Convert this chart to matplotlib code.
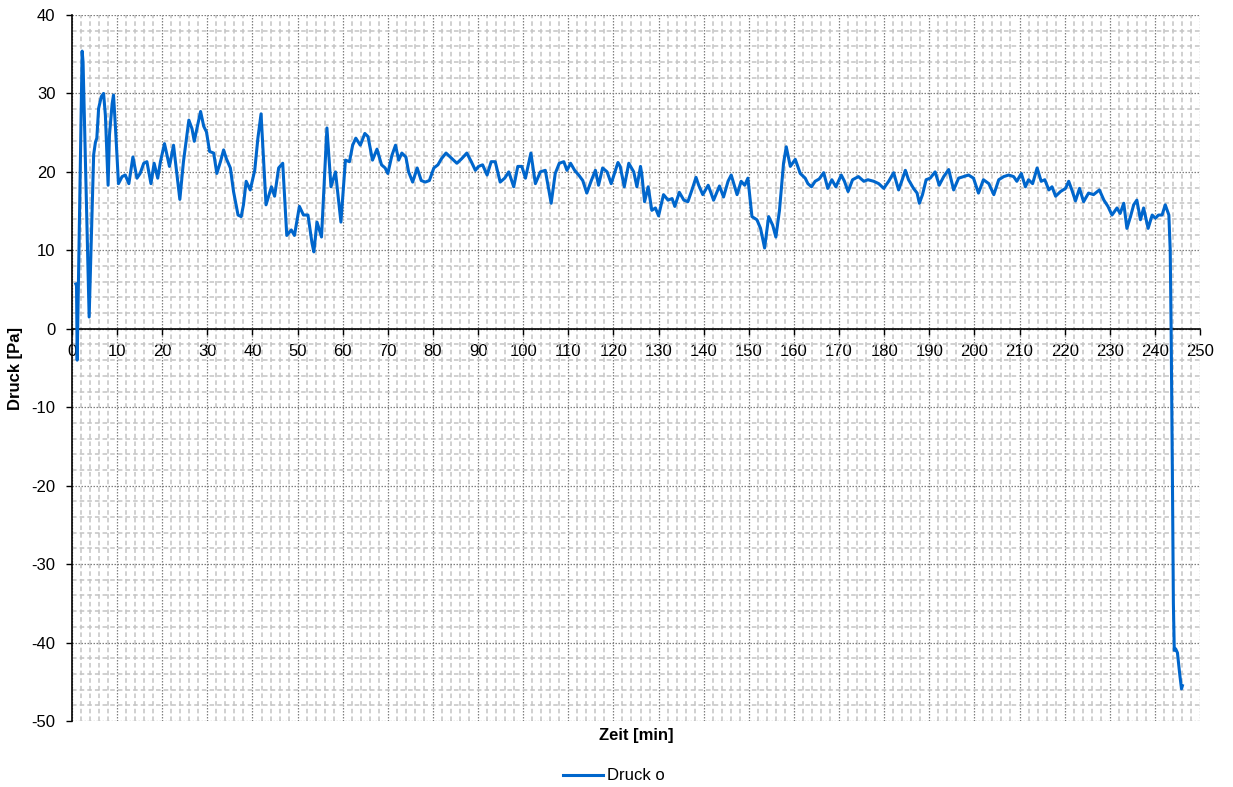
import matplotlib
matplotlib.use('Agg')
import matplotlib.pyplot as plt
from matplotlib.ticker import MultipleLocator

# Druckverlauf
zeit = [0.85, 1.0, 1.15, 2.25, 2.45, 3.8, 4.8, 5.2, 5.5, 5.9, 6.5, 7.0, 7.4, 8.0, 8.3, 8.9, 9.2, 9.6,
        10.3, 11.1, 11.8, 12.6, 13.5, 14.4, 15.1, 15.9, 16.6, 17.5, 18.2, 19.0, 19.6, 20.5, 21.6, 22.5,
        23.0, 23.9, 24.7, 25.9, 26.6, 27.1, 27.6, 28.5, 29.2, 29.8, 30.5, 31.4, 32.1, 32.9, 33.6, 34.2,
        35.1, 35.8, 36.8, 37.5, 38.0, 38.6, 39.5, 40.5, 41.2, 41.9, 43.0, 44.2, 44.9, 45.8, 46.7, 47.6,
        48.6, 49.3, 50.4, 51.3, 52.3, 53.2, 53.6, 54.3, 55.3, 56.5, 57.4, 58.4, 59.6, 60.6, 61.5, 62.2,
        62.9, 63.9, 64.9, 65.6, 66.6, 67.6, 68.6, 69.4, 70.0, 70.9, 71.7, 72.4, 73.1, 74.0, 74.6, 75.5,
        76.5, 77.4, 78.3, 79.2, 80.2, 81.1, 81.9, 82.9, 84.2, 85.3, 86.4, 87.5, 88.5, 89.4, 90.1, 91.0,
        92.0, 92.9, 93.8, 94.9, 95.9, 96.8, 97.9, 98.8, 99.7, 100.5, 101.7, 102.7, 103.8, 104.9, 106.2,
        107.1, 108.0, 109.0, 109.7, 110.5, 111.4, 112.3, 113.2, 114.1, 115.1, 116.0, 116.7, 117.6,
        118.6, 119.5, 121.0, 121.5, 122.4, 123.4, 124.5, 125.2, 126.0, 126.3, 126.9, 127.7, 128.5,
        129.3, 130.0, 131.1, 132.1, 133.0, 133.6, 134.6, 135.6, 136.5, 137.4, 138.3, 138.9, 139.8,
        141.0, 142.2, 143.5, 144.4, 145.4, 146.1, 147.4, 148.3, 149.1, 149.8, 150.7, 151.8, 152.6,
        153.5, 154.4, 155.3, 156.0, 156.8, 157.7, 158.3, 159.2, 160.3, 161.4, 162.5, 163.1, 163.9,
        164.7, 165.6, 166.6, 167.5, 168.4, 169.3, 170.5, 171.2, 172.0, 173.0, 174.3, 175.5, 176.4,
        177.7, 178.8, 179.9, 181.0, 182.1, 183.2, 184.0, 184.7, 185.4, 186.5, 187.3, 187.8, 188.5,
        189.3, 190.2, 191.3, 192.2, 193.2, 194.3, 195.4, 196.5, 197.6, 198.7, 199.8, 200.9, 202.0,
        203.2, 204.3, 205.4, 206.5, 207.6, 208.7, 209.4, 210.4, 211.3, 212.0, 212.9, 213.9, 214.8,
        215.6, 216.5, 217.2, 218.0, 219.1, 220.2, 220.9, 221.6, 222.4, 223.3, 224.2, 225.3, 226.4,
        227.7, 228.7, 229.6, 230.5, 231.6, 232.3, 233.1, 233.8, 234.6, 235.3, 236.0, 236.8, 237.5,
        238.5, 239.4, 240.1, 240.8, 241.6, 242.3, 243.1, 243.4, 243.6, 243.9, 244.1, 244.3, 244.6,
        245.0, 245.5, 245.9, 246.1]

druck = [5.7, 5.5, -4.0, 35.4, 34.0, 1.5, 22.2, 23.8, 24.3, 28.1, 29.6, 30.0, 27.2, 18.3, 24.7, 28.7, 29.8, 26.0,
         18.5, 19.4, 19.6, 18.5, 21.9, 19.2, 19.8, 21.1, 21.3, 18.5, 21.1, 19.2, 21.3, 23.6, 20.7, 23.4,
         20.9, 16.5, 21.3, 26.6, 25.5, 23.9, 25.3, 27.7, 25.8, 25.1, 22.6, 22.4, 19.8, 21.3, 22.8, 21.7,
         20.5, 17.5, 14.5, 14.3, 15.8, 18.8, 17.7, 20.2, 24.3, 27.4, 15.8, 18.1, 16.9, 20.5, 21.1, 11.9,
         12.6, 11.9, 15.6, 14.5, 14.5, 10.9, 9.8, 13.6, 11.7, 25.6, 18.1, 20.0, 13.6, 21.5, 21.3, 23.4,
         24.3, 23.4, 24.9, 24.5, 21.5, 22.9, 20.9, 20.5, 19.8, 22.1, 23.4, 21.5, 22.4, 21.9, 20.0, 18.7,
         20.5, 18.9, 18.7, 18.9, 20.5, 20.9, 21.7, 22.4, 21.7, 21.1, 21.7, 22.4, 21.3, 20.2, 20.7, 20.9,
         19.6, 21.3, 21.3, 18.7, 19.2, 20.0, 18.1, 20.7, 20.7, 19.2, 22.4, 18.5, 20.0, 20.2, 16.0,
         19.8, 21.1, 21.3, 20.2, 21.1, 20.2, 19.6, 18.9, 17.3, 18.9, 20.2, 18.3, 20.5,
         20.0, 18.5, 21.2, 20.7, 18.1, 21.1, 20.0, 18.1, 20.7, 19.6, 16.2, 18.1, 15.1,
         15.4, 14.4, 17.1, 16.4, 16.6, 15.6, 17.4, 16.4, 16.2, 17.7, 19.3, 18.3, 17.1,
         18.3, 16.4, 18.2, 16.8, 18.8, 19.6, 17.1, 18.8, 18.3, 19.2, 14.3, 13.9, 12.8,
         10.3, 14.3, 13.2, 11.7, 15.1, 21.1, 23.2, 20.7, 21.6, 19.8, 19.2, 18.5, 18.1,
         18.8, 19.1, 19.9, 17.9, 19.0, 18.1, 19.6, 18.8, 17.5, 19.0, 19.4, 18.8, 19.0,
         18.8, 18.5, 17.9, 18.8, 19.9, 17.7, 19.0, 20.2, 19.0, 17.9, 17.3, 16.0, 17.1,
         19.0, 19.2, 20.0, 18.3, 19.4, 20.3, 17.7, 19.2, 19.4, 19.6, 19.2, 17.3, 19.0,
         18.5, 17.1, 19.0, 19.4, 19.6, 19.4, 18.8, 19.8, 18.1, 19.0, 18.5, 20.5, 18.8,
         19.0, 17.7, 18.1, 16.9, 17.5, 17.9, 18.8, 17.7, 16.3, 17.9, 16.2, 17.3, 17.1,
         17.7, 16.4, 15.6, 14.5, 15.4, 14.7, 16.0, 12.8, 14.3, 15.8, 16.4, 13.9, 15.4,
         12.8, 14.5, 14.1, 14.5, 14.5, 15.8, 14.5, 10.0, 0.0, -20.0, -35.0, -41.0, -40.8,
         -41.3, -44.0, -45.9, -45.5]

plt.rcParams['font.family'] = ['Liberation Sans', 'DejaVu Sans']
plt.rcParams['axes.unicode_minus'] = False

fig = plt.figure(figsize=(12.33, 7.87), dpi=100)
ax = fig.add_axes([72 / 1233, 1 - 721 / 787, 1128 / 1233, 706 / 787])

ax.plot(zeit, druck, color='#0066CC', linewidth=2.2, label='Druck o', zorder=3)

ax.set_xlim(0, 250)
ax.set_ylim(-50, 40)
ax.xaxis.set_major_locator(MultipleLocator(10))
ax.xaxis.set_minor_locator(MultipleLocator(2))
ax.yaxis.set_major_locator(MultipleLocator(10))
ax.yaxis.set_minor_locator(MultipleLocator(2))

# gridlines: light dashed minor, dark dotted major
ax.grid(which='minor', color='#c4c4c4', linestyle=(0, (3, 2)), linewidth=1.1)
ax.grid(which='major', color='#808080', linestyle=(0, (1.2, 1.2)), linewidth=0.9)
ax.set_axisbelow(True)

# x axis sits at zero like in Excel
ax.spines['bottom'].set_position(('data', 0))
ax.spines['top'].set_visible(False)
ax.spines['right'].set_visible(False)
ax.spines['left'].set_linewidth(1.2)
ax.spines['bottom'].set_linewidth(1.2)
ax.tick_params(which='minor', length=0)
ax.tick_params(which='major', length=4, width=1, labelsize=12, colors='black')
ax.tick_params(axis='y', pad=8)
ax.tick_params(axis='x', pad=7)

ax.set_xlabel('Zeit [min]', fontsize=12, fontweight='bold')
ax.xaxis.set_label_coords(0.5, -0.01)
ax.set_ylabel('Druck [Pa]', fontsize=12, fontweight='bold')
ax.yaxis.set_label_coords(-0.043, 0.5)

fig.legend(loc='center', bbox_to_anchor=(614 / 1233, 1 - 776 / 787), frameon=False,
           fontsize=12, handlelength=2.4, handletextpad=0.2)

fig.savefig('out.png', dpi=100)
